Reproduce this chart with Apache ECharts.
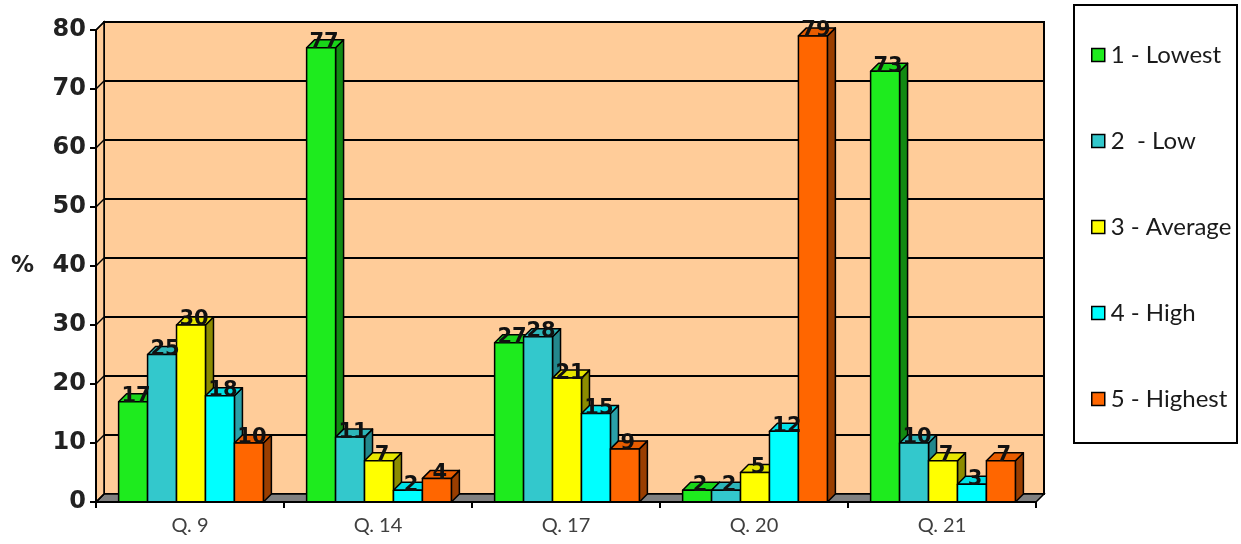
<!DOCTYPE html>
<html><head><meta charset="utf-8">
<script src="https://cdn.jsdelivr.net/npm/echarts@6/dist/echarts.min.js"></script>
<style>html,body{margin:0;padding:0;background:#fff}#c{width:1241px;height:544px}</style>
</head><body><div id="c"></div>
<script>
const categories = ['Q. 9', 'Q. 14', 'Q. 17', 'Q. 20', 'Q. 21'];
const seriesNames = ['1 - Lowest', '2  - Low', '3 - Average', '4 - High', '5 - Highest'];
const lowest  = [17, 77, 27, 2, 73];
const low     = [25, 11, 28, 2, 10];
const average = [30, 7, 21, 5, 7];
const high    = [18, 2, 15, 12, 3];
const highest = [10, 4, 9, 79, 7];
const yMin = 0, yMax = 80, yInterval = 10;

const values = [lowest, low, average, high, highest];
const frontColors = ['#1EEB1E', '#33C8CC', '#FFFF00', '#00FFFF', '#FF6600'];
const topColors   = ['#19D419', '#2DB5B8', '#E6E600', '#00E0E6', '#E85C00'];
const sideColors  = ['#128A12', '#23878C', '#8C8C00', '#2AA0A8', '#9A3E00'];

const G = {left: 96, top: 30, width: 940, height: 472};
const D = 8;

function geom(api, level) {
  const cat = api.value(0), v = api.value(1);
  const base = api.coord([cat, 0]);
  const top = api.coord([cat, v]);
  const band = api.size([1, 0])[0];
  const bw = band * 0.154;
  const x0 = base[0] - 2.5 * bw + level * bw + 1;
  return {x0, bw, yt: top[1], yb: base[1], v};
}

function barRenderer(level) {
  return function (params, api) {
    const g = geom(api, level);
    const ls = {stroke: '#000', lineWidth: 1.5, lineJoin: 'round'};
    return {
      type: 'group',
      children: [
        {type: 'polygon', shape: {points: [[g.x0 + g.bw, g.yt], [g.x0 + g.bw + D, g.yt - D], [g.x0 + g.bw + D, g.yb - D], [g.x0 + g.bw, g.yb]]},
         style: Object.assign({fill: sideColors[level]}, ls)},
        {type: 'polygon', shape: {points: [[g.x0, g.yt], [g.x0 + D, g.yt - D], [g.x0 + g.bw + D, g.yt - D], [g.x0 + g.bw, g.yt]]},
         style: Object.assign({fill: topColors[level]}, ls)},
        {type: 'rect', shape: {x: g.x0, y: g.yt, width: g.bw, height: g.yb - g.yt},
         style: Object.assign({fill: frontColors[level]}, ls)}
      ]
    };
  };
}
function labelRenderer(level) {
  return function (params, api) {
    const g = geom(api, level);
    return {
      type: 'text',
      x: g.x0 + g.bw / 2 + 3, y: g.yt - 5,
      style: {text: String(g.v), fill: '#111', font: 'bold 21px "DejaVu Sans"', align: 'center', verticalAlign: 'middle'}
    };
  };
}

const series = [];
values.forEach((arr, i) => {
  series.push({
    type: 'custom', name: seriesNames[i], xAxisIndex: 0, yAxisIndex: 0, z: 2,
    itemStyle: {color: frontColors[i]},
    renderItem: barRenderer(i),
    encode: {x: 0, y: 1},
    data: arr.map((v, k) => [k, v])
  });
});
values.forEach((arr, i) => {
  series.push({
    type: 'custom', name: seriesNames[i], xAxisIndex: 0, yAxisIndex: 0, z: 3,
    itemStyle: {color: frontColors[i]},
    renderItem: labelRenderer(i),
    encode: {x: 0, y: 1},
    data: arr.map((v, k) => [k, v])
  });
});

const chart = echarts.init(document.getElementById('c'));
const option = {
  animation: false,
  backgroundColor: '#fff',
  grid: [
    {left: G.left, top: G.top, width: G.width, height: G.height, containLabel: false},
    {left: G.left + D, top: G.top - D, width: G.width, height: G.height, show: true,
     backgroundColor: '#FFCC99', borderColor: '#000', borderWidth: 2, z: 0}
  ],
  xAxis: [
    {type: 'category', gridIndex: 0, data: categories, z: 5,
     axisLine: {lineStyle: {color: '#000', width: 2}},
     axisTick: {show: true, length: 6, lineStyle: {color: '#000', width: 2}},
     axisLabel: {color: '#404040', fontFamily: 'Lato', fontSize: 20, margin: 14}},
    {type: 'category', gridIndex: 1, data: categories, show: false}
  ],
  yAxis: [
    {type: 'value', gridIndex: 0, min: yMin, max: yMax, interval: yInterval, z: 5,
     name: '%', nameLocation: 'middle', nameRotate: 0, nameGap: 62,
     nameTextStyle: {color: '#222', fontFamily: 'DejaVu Sans', fontWeight: 'bold', fontSize: 23},
     axisLine: {show: true, lineStyle: {color: '#000', width: 2}},
     axisTick: {show: true, length: 6, lineStyle: {color: '#000', width: 2}},
     axisLabel: {color: '#222', fontFamily: 'DejaVu Sans', fontWeight: 'bold', fontSize: 24, margin: 10},
     splitLine: {show: false}},
    {type: 'value', gridIndex: 1, min: yMin, max: yMax, interval: yInterval,
     axisLine: {show: false}, axisTick: {show: false}, axisLabel: {show: false},
     splitLine: {show: true, lineStyle: {color: '#000', width: 2}}}
  ],
  legend: {
    data: seriesNames, orient: 'vertical', left: 1086, top: 38,
    icon: 'rect', itemWidth: 13, itemHeight: 13, itemGap: 62,
    itemStyle: {borderColor: '#000', borderWidth: 1.5},
    textStyle: {color: '#1a1a1a', fontFamily: 'Lato', fontSize: 24, lineHeight: 24, padding: [0, 0, 0, 1]}
  },
  series: series
};
chart.setOption(option);

// decorations: floor, side wall, legend frame, derived from the axis scale
const y0 = chart.convertToPixel({yAxisIndex: 0}, yMin);
const yTop = chart.convertToPixel({yAxisIndex: 0}, yMax);
const xL = G.left, xR = G.left + G.width;
const gfx = [
  {type: 'rect', z: 0, shape: {x: 1074, y: 5, width: 163, height: 438},
   style: {fill: '#fff', stroke: '#000', lineWidth: 2}},
  {type: 'polygon', z: 1, shape: {points: [[xL, y0], [xL + D, y0 - D], [xR + D, y0 - D], [xR, y0]]},
   style: {fill: '#808080', stroke: '#000', lineWidth: 1.5}},
  {type: 'polygon', z: 1, shape: {points: [[xL, y0], [xL, yTop], [xL + D, yTop - D], [xL + D, y0 - D]]},
   style: {fill: '#FFCC99', stroke: '#000', lineWidth: 1.5}}
];
for (let v = yMin; v <= yMax; v += yInterval) {
  const y = chart.convertToPixel({yAxisIndex: 0}, v);
  gfx.push({type: 'line', z: 1, shape: {x1: xL, y1: y, x2: xL + D, y2: y - D}, style: {stroke: '#000', lineWidth: 1.5}});
}
chart.setOption({graphic: gfx});
</script>
</body></html>
